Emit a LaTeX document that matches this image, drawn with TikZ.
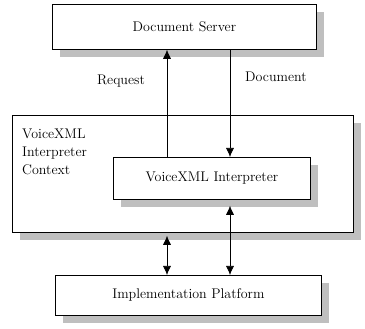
\documentclass[tikz,border=0pt]{standalone}
\usetikzlibrary{arrows.meta,shadows}
\tikzset{
  box/.style={draw, thick, fill=white, minimum height=#1, inner sep=0pt,
    drop shadow={shadow xshift=8pt, shadow yshift=-8pt, fill=black!25, opacity=1}},
  link/.style={semithick, {Latex[length=9pt,width=8pt]}-{Latex[length=9pt,width=8pt]}},
  lbl/.style={font=\fontsize{14}{18}\selectfont}
}
\begin{document}
\begin{tikzpicture}[x=1pt, y=-1pt]
  \useasboundingbox (0,0) rectangle (365,329);
  \fill[white] (0,0) rectangle (365,329);
  \node[box=117pt, minimum width=341pt, anchor=north west] (ctx) at (12,115) {};
  \node[lbl, align=left, anchor=north west, inner sep=0pt] (ctxlbl) at (22,129)
    {VoiceXML\\Interpreter\\Context};
  \node[box=45pt, minimum width=264pt, anchor=north west, lbl] (ds) at (52,4) {Document Server};
  \node[box=42pt, minimum width=197pt, anchor=north west, lbl] (vi) at (113,157) {VoiceXML Interpreter};
  \node[box=40pt, minimum width=266pt, anchor=north west, lbl] (ip) at (55,275) {Implementation Platform};
  \coordinate (reqx) at (167,0);
  \coordinate (docx) at (230,0);
  \node[lbl] (req) at (121,81) {Request};
  \node[lbl] (doc) at (276,77) {Document};
  \begin{scope}[semithick]
    \draw[-{Latex[length=9pt,width=8pt]}] (vi.north -| reqx) -- (ds.south -| reqx);
    \draw[-{Latex[length=9pt,width=8pt]}] (ds.south -| docx) -- (vi.north -| docx);
    \draw[link] ([yshift=-6pt]vi.south -| docx) -- (ip.north -| docx);
    \draw[link] ([yshift=-3pt]ctx.south -| reqx) -- (ip.north -| reqx);
  \end{scope}
\end{tikzpicture}
\end{document}
